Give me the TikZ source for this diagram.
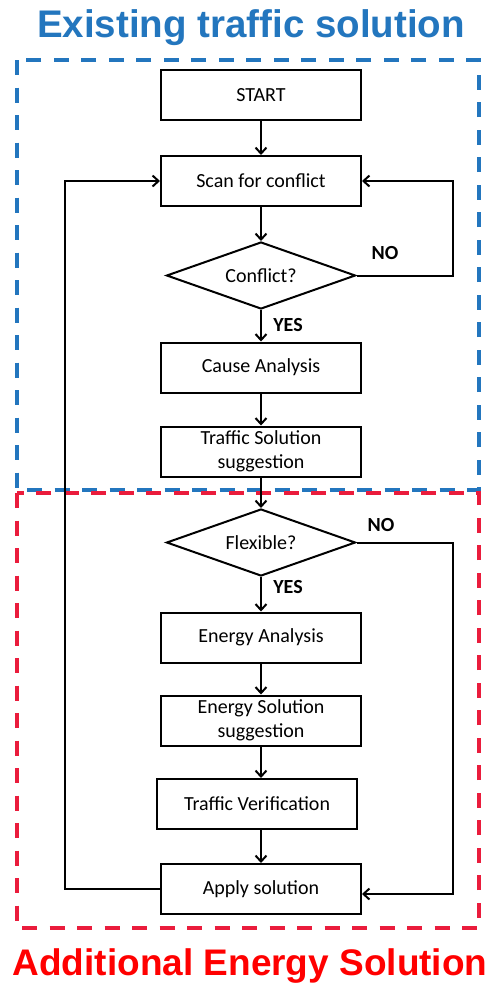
\documentclass[tikz,border=0pt]{standalone}
\usepackage{fontspec}
\setmainfont{Carlito}
\newfontfamily\arialfont{Liberation Sans}
\usetikzlibrary{shapes.geometric,arrows.meta}
\definecolor{eblue}{RGB}{35,118,190}
\definecolor{ered}{RGB}{234,28,60}
\definecolor{tred}{RGB}{255,0,0}
\begin{document}
\begin{tikzpicture}[x=1pt,y=-1pt,
  stepbox/.style={draw,line width=2pt,minimum width=200pt,minimum height=50pt,inner sep=0pt,align=center,font=\fontsize{20}{24.5}\selectfont},
  decision/.style={draw,diamond,line width=2pt,minimum width=189pt,minimum height=67pt,aspect=2.8,inner sep=0pt,font=\fontsize{20}{24}\selectfont},
  conn/.style={line width=2pt,-{Straight Barb[length=6pt,width=11pt,line width=2pt]}},
  lbl/.style={font=\fontsize{20}{22}\selectfont\bfseries,inner sep=0pt},
  region/.style={line width=3.5pt,dash pattern=on 15pt off 12.5pt},
  ttl/.style={font=\arialfont\bfseries\fontsize{38.5}{42}\selectfont,inner sep=0pt}]
\useasboundingbox (0,0) rectangle (492,986);
\fill[white] (0,0) rectangle (492,986);
% regions
\draw[region,eblue] (17,60) rectangle (479,490);
\draw[region,ered] (17,493) rectangle (479,928);
\node[ttl,text=eblue] (t1) at (251,28) {Existing traffic solution};
\node[ttl,text=tred,font=\arialfont\bfseries\fontsize{37}{42}\selectfont] (t2) at (250,966) {Additional Energy Solution};
% nodes
\node[stepbox] (start) at (261,95) {START};
\node[stepbox] (scan) at (261,181) {Scan for conflict};
\node[decision] (conf) at (261,275.5) {Conflict?};
\node[stepbox] (cause) at (261,367.5) {Cause Analysis};
\node[stepbox] (tsol) at (261,451.5) {Traffic Solution\\suggestion};
\node[decision] (flex) at (261,542.5) {Flexible?};
\node[stepbox] (ean) at (261,637.5) {Energy Analysis};
\node[stepbox] (esol) at (261,720.5) {Energy Solution\\suggestion};
\node[stepbox] (tver) at (257,804) {Traffic Verification};
\node[stepbox] (apply) at (261,889) {Apply solution};
\node[lbl] (no1) at (385,253) {NO};
\node[lbl] (yes1) at (288,325) {YES};
\node[lbl] (no2) at (381,525) {NO};
\node[lbl] (yes2) at (288,587) {YES};
\coordinate (r1) at (453,181);
\coordinate (r2) at (453,894);
\coordinate (l1) at (65,181);
\coordinate (l2) at (65,889);
% connectors
\draw[conn] (start) -- (scan);
\draw[conn] (scan) -- (conf);
\draw[conn] (conf) -- (cause);
\draw[conn] (cause) -- (tsol);
\draw[conn] (tsol) -- (flex);
\draw[conn] (flex) -- (ean);
\draw[conn] (ean) -- (esol);
\draw[conn] (esol.south) -- (esol.south |- tver.north);
\draw[conn] (tver.south -| apply.north) -- (apply.north);
\draw[conn] (conf.east) -| (r1) -- (scan.east);
\draw[conn] (flex.east) -| (r2) -- (r2 -| apply.east);
\draw[conn] (apply.west) -- (l2) -- (l1) -- (scan.west);
\end{tikzpicture}
\end{document}
